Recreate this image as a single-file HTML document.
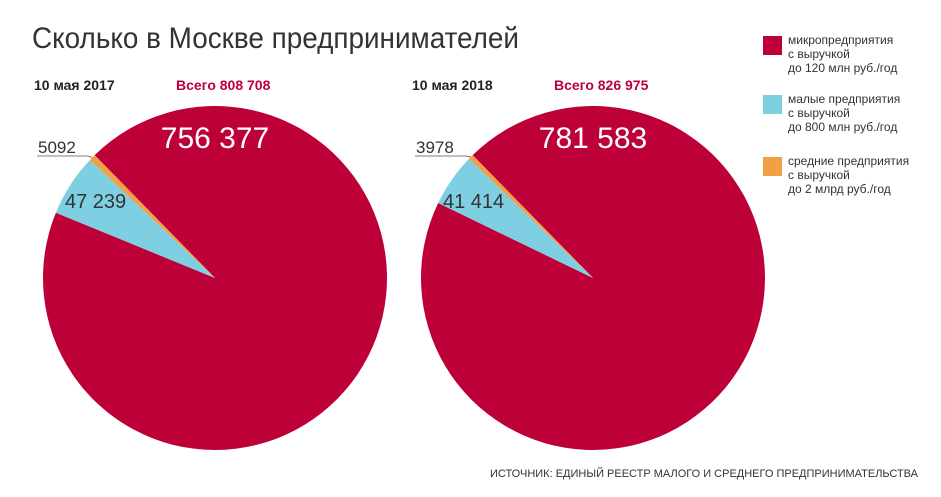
<!DOCTYPE html>
<html><head><meta charset="utf-8"><style>
body{margin:0;background:#fff;}
svg{display:block;font-family:"Liberation Sans","DejaVu Sans",sans-serif;}
</style></head><body>
<svg id="c" width="941" height="497" viewBox="0 0 941 497" xmlns="http://www.w3.org/2000/svg">
<text x="32" y="48" font-size="30" fill="#333" font-weight="300" textLength="487" lengthAdjust="spacingAndGlyphs">Сколько в Москве предпринимателей</text>
<g id="pies"></g>
<g>
<rect x="763" y="36" width="19" height="19" fill="#be0039"/>
<text x="788" y="44" font-size="12" fill="#333"><tspan x="788">микропредприятия</tspan><tspan x="788" dy="14">с выручкой</tspan><tspan x="788" dy="14">до 120 млн руб./год</tspan></text>
<rect x="763" y="95" width="19" height="19" fill="#7ecfe2"/>
<text x="788" y="103" font-size="12" fill="#333"><tspan x="788">малые предприятия</tspan><tspan x="788" dy="14">с выручкой</tspan><tspan x="788" dy="14">до 800 млн руб./год</tspan></text>
<rect x="763" y="157" width="19" height="19" fill="#f2a045"/>
<text x="788" y="165" font-size="12" fill="#333"><tspan x="788">средние предприятия</tspan><tspan x="788" dy="14">с выручкой</tspan><tspan x="788" dy="14">до 2 млрд руб./год</tspan></text>
</g>
<text x="918" y="477" font-size="11" fill="#333" text-anchor="end">ИСТОЧНИК: ЕДИНЫЙ РЕЕСТР МАЛОГО И СРЕДНЕГО ПРЕДПРИНИМАТЕЛЬСТВА</text>
</svg>
<script>
const years = ["10 мая 2017", "10 мая 2018"];
const totals = ["Всего 808 708", "Всего 826 975"];
const micro = [756377, 781583];
const small = [47239, 41414];
const medium = [5092, 3978];
const colors = ["#be0039", "#7ecfe2", "#f2a045"];
const fmt = v => String(v).replace(/\B(?=(\d{3})+(?!\d))/g, " ");
const NS = "http://www.w3.org/2000/svg";
const g = document.getElementById("pies");
function mk(tag, attrs, parent){const e=document.createElementNS(NS,tag);for(const k in attrs)e.setAttribute(k,attrs[k]);parent.appendChild(e);return e;}
function pt(cx,cy,r,a){const t=a*Math.PI/180;return [cx+r*Math.sin(t), cy-r*Math.cos(t)];}
const centers=[215,593], cy=278, R=172;
for(let i=0;i<2;i++){
  const cx=centers[i];
  const vals=[micro[i],small[i],medium[i]];
  const tot=vals.reduce((a,b)=>a+b,0);
  const end=315.6;
  let a=end-vals.reduce((s,v)=>s+v,0)/tot*360 + 360 - 360;
  a = end; // start of micro slice; slices go clockwise, ending back at 'end'
  const angs=[];
  let cur=a;
  vals.forEach((v,j)=>{
    const sw=v/tot*360;
    const p0=pt(cx,cy,R,cur), p1=pt(cx,cy,R,cur+sw);
    const p=mk("path",{d:`M${cx},${cy}L${p0[0]},${p0[1]}A${R},${R} 0 ${sw>180?1:0} 1 ${p1[0]},${p1[1]}Z`,fill:colors[j]},g);
    
    
    angs.push(cur+sw/2);
    cur+=sw;
  });
  const yl=mk("text",{x:cx-181,y:90,"font-size":14,"font-weight":"bold",fill:"#222"},g);
  yl.textContent=years[i];
  
  
  const tl=mk("text",{x:cx-39,y:90,"font-size":14,"font-weight":"bold",fill:"#be0039"},g);
  tl.textContent=totals[i];
  
  
  const ml=mk("text",{x:cx,y:148,"font-size":30,fill:"#fff","text-anchor":"middle"},g);
  ml.textContent=fmt(micro[i]);
  
  
  const sl=mk("text",{x:cx-150,y:208,"font-size":20,fill:"#333"},g);
  sl.textContent=fmt(small[i]);
  
  
  const mp=pt(cx,cy,R,angs[2]);
  const ln=mk("polyline",{points:`${cx-178},${cy-122} ${cx-127},${cy-122} ${mp[0]},${mp[1]}`,fill:"none",stroke:"#555","stroke-width":0.8},g);
  
  
  const dl=mk("text",{x:cx-177,y:cy-125,"font-size":17,fill:"#333"},g);
  dl.textContent=fmt(medium[i]).replace(" ","");
  
  
}
</script>
</body></html>
